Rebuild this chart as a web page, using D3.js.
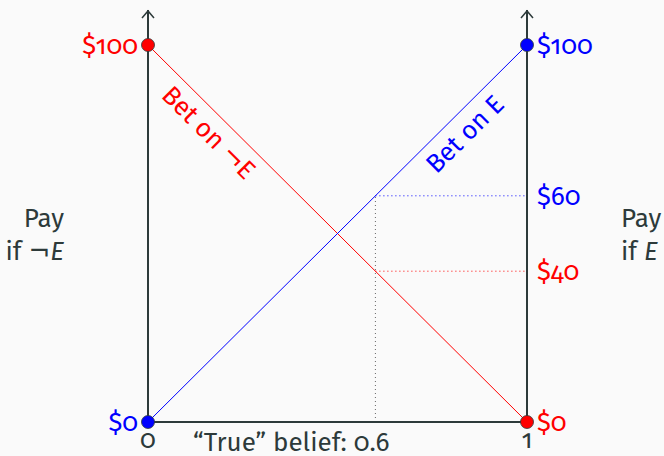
<!DOCTYPE html>
<html>
<head>
<meta charset="utf-8">
<script src="https://d3js.org/d3.v7.min.js"></script>
<style>
  body { margin: 0; background: #fafafa; }
  svg text { font-family: "Fira Sans", Lato, "Open Sans", sans-serif; font-variant-numeric: oldstyle-nums; font-feature-settings: "onum" 1; }
  svg tspan.neg { font-family: "DejaVu Sans", sans-serif; }
</style>
</head>
<body>
<div id="chart"></div>
<script>
// belief in E along the bottom, payoff along the two sides
const beliefs = [0, 1];
const betOnE = [0, 100];      // pays if E
const betOnNotE = [100, 0];   // pays if not E
const trueBelief = 0.6;
const payAtBelief = {e: 60, notE: 40};
const tickLabels = ["0", "1"];

const width = 664, height = 456;
const ink = "#2d3a3a";
const red = "#ff0000", blue = "#0000ff";

let svg = d3.select("#chart").append("svg")
  .attr("width", width)
  .attr("height", height)
  .style("background", "#fafafa");

let x = d3.scaleLinear().domain([0, 1]).range([148, 527]);
let y = d3.scaleLinear().domain([0, 100]).range([422, 45]);
const arrowTop = y(100) - 35;

// dotted guides at the true belief
svg.append("line")
  .attr("x1", x(trueBelief)).attr("x2", x(trueBelief))
  .attr("y1", y(0)).attr("y2", y(payAtBelief.e))
  .attr("stroke", "#666").attr("stroke-width", 1).attr("stroke-dasharray", "1,3");
svg.append("line")
  .attr("x1", x(trueBelief)).attr("x2", x(1))
  .attr("y1", y(payAtBelief.e)).attr("y2", y(payAtBelief.e))
  .attr("stroke", blue).attr("stroke-width", 1).attr("stroke-dasharray", "1,3");
svg.append("line")
  .attr("x1", x(trueBelief)).attr("x2", x(1))
  .attr("y1", y(payAtBelief.notE)).attr("y2", y(payAtBelief.notE))
  .attr("stroke", red).attr("stroke-width", 1).attr("stroke-dasharray", "1,3");

// axes: two verticals with arrows and the bottom
[0, 1].forEach(v => {
  svg.append("line")
    .attr("x1", x(v)).attr("x2", x(v))
    .attr("y1", y(0)).attr("y2", arrowTop)
    .attr("stroke", ink).attr("stroke-width", 2);
  svg.append("path")
    .attr("d", `M${x(v)-6},${arrowTop+8}L${x(v)},${arrowTop+1}L${x(v)+6},${arrowTop+8}`)
    .attr("fill", "none").attr("stroke", ink).attr("stroke-width", 1.5);
});
svg.append("line")
  .attr("x1", x(0)).attr("x2", x(1))
  .attr("y1", y(0)).attr("y2", y(0))
  .attr("stroke", ink).attr("stroke-width", 2);

// the two bets
let line = d3.line().x(d => x(d[0])).y(d => y(d[1]));
svg.append("path")
  .attr("d", line(d3.zip(beliefs, betOnNotE)))
  .attr("fill", "none").attr("stroke", red).attr("stroke-width", 1);
svg.append("path")
  .attr("d", line(d3.zip(beliefs, betOnE)))
  .attr("fill", "none").attr("stroke", blue).attr("stroke-width", 1);

// end points
const dots = [
  [0, betOnNotE[0], red], [1, betOnNotE[1], red],
  [0, betOnE[0], blue], [1, betOnE[1], blue]
];
svg.selectAll("circle.end").data(dots).join("circle")
  .attr("class", "end")
  .attr("cx", d => x(d[0])).attr("cy", d => y(d[1]))
  .attr("r", 6.5)
  .attr("fill", d => d[2])
  .attr("stroke", ink).attr("stroke-width", 0.8);

// payoff labels
const fs = 26;
function label(txt, px, py, color, anchor) {
  svg.append("text")
    .attr("x", px).attr("y", py)
    .attr("dy", "0.35em")
    .attr("text-anchor", anchor)
    .attr("fill", color)
    .attr("font-size", fs)
    .text(txt);
}
label("$" + betOnNotE[0], x(0) - 10, y(betOnNotE[0]), red, "end");
label("$" + betOnE[0], x(0) - 10, y(betOnE[0]), blue, "end");
label("$" + betOnE[1], x(1) + 10, y(betOnE[1]), blue, "start");
label("$" + betOnNotE[1], x(1) + 10, y(betOnNotE[1]), red, "start");
label("$" + payAtBelief.e, x(1) + 10, y(payAtBelief.e), blue, "start");
label("$" + payAtBelief.notE, x(1) + 10, y(payAtBelief.notE), red, "start");

// bottom ticks and caption
tickLabels.forEach((t, i) => {
  svg.append("text")
    .attr("x", x(beliefs[i])).attr("y", y(0) + 26)
    .attr("text-anchor", "middle")
    .attr("fill", ink).attr("font-size", fs)
    .text(t);
});
svg.append("text")
  .attr("x", 193).attr("y", y(0) + 29)
  .attr("fill", ink).attr("font-size", fs)
  .text("\u201cTrue\u201d belief: " + trueBelief);

// side titles
let leftTitle = svg.append("text")
  .attr("text-anchor", "end").attr("fill", ink).attr("font-size", fs);
leftTitle.append("tspan").attr("x", 64).attr("y", 227).text("Pay");
let l2 = leftTitle.append("tspan").attr("x", 64).attr("y", 260);
l2.append("tspan").text("if ");
l2.append("tspan").attr("class", "neg").text("\u00ac");
l2.append("tspan").attr("font-style", "italic").text("E");

let rightTitle = svg.append("text")
  .attr("fill", ink).attr("font-size", fs);
rightTitle.append("tspan").attr("x", 621).attr("y", 227).text("Pay");
let r2 = rightTitle.append("tspan").attr("x", 621).attr("y", 260);
r2.append("tspan").text("if ");
r2.append("tspan").attr("font-style", "italic").text("E");

// labels along the bet lines, sitting just under each line
function along(parts, b0, v0, b1, v1, color, t, offset) {
  const x1 = x(b0), y1 = y(v0), x2 = x(b1), y2 = y(v1);
  const ang = Math.atan2(y2 - y1, x2 - x1) * 180 / Math.PI;
  const px = x1 + (x2 - x1) * t, py = y1 + (y2 - y1) * t;
  let txt = svg.append("text")
    .attr("transform", `translate(${px},${py}) rotate(${ang})`)
    .attr("y", offset)
    .attr("text-anchor", "middle")
    .attr("fill", color).attr("font-size", fs);
  parts.forEach(p => txt.append("tspan").attr("class", p[1]).text(p[0]));
}
along([["Bet on ", ""], ["\u00ac", "neg"], ["E", ""]],
  beliefs[0], betOnNotE[0], beliefs[1], betOnNotE[1], red, 0.196, 28);
along([["Bet on E", ""]],
  beliefs[0], betOnE[0], beliefs[1], betOnE[1], blue, 0.80, 28);
</script>
</body>
</html>
